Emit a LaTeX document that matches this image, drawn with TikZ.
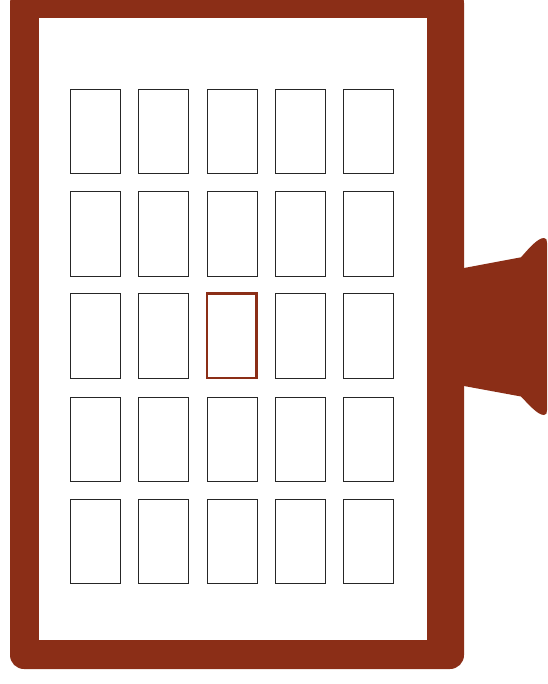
\documentclass[tikz,border=0pt]{standalone}
\definecolor{rust}{HTML}{8B2E17}
\tikzset{
  cellbox/.style={draw=black!85,line width=0.45pt,fill=white,minimum width=37.4pt,minimum height=63.4pt,inner sep=0pt,outer sep=0pt,anchor=south west},
  activebox/.style={cellbox,draw=rust,line width=2.2pt}
}
\begin{document}
\begin{tikzpicture}[x=0.75pt,y=-0.75pt]
\useasboundingbox (0,0) rectangle (547,684);
\clip (0,0) rectangle (547,684);
% speaker on the right
\fill[rust] (440,272.5) -- (464,268) -- (521,257.3)
  .. controls (530,247) and (538,238) .. (544,238)
  .. controls (546.5,238) and (547,240) .. (547,243)
  -- (547,410)
  .. controls (547,413) and (546.5,415) .. (544,415)
  .. controls (538,415) and (530,406) .. (521,396.5)
  -- (464,386) -- (440,381.5) -- cycle;
% frame
\fill[rust,rounded corners=10.5pt] (10,-11) rectangle (464,669);
\fill[white] (39,18) rectangle (427,640);
% cells
\foreach \r/\yb in {1/173.5,2/276,3/378,4/481.5,5/583.5}{
  \foreach \c/\xl in {1/70,2/138.3,3/207,4/275.2,5/343.5}{
    \ifnum\r\c=33\relax
      \node[activebox] (c\r\c) at (\xl,\yb) {};
    \else
      \node[cellbox] (c\r\c) at (\xl,\yb) {};
    \fi
  }
}
\end{tikzpicture}
\end{document}
